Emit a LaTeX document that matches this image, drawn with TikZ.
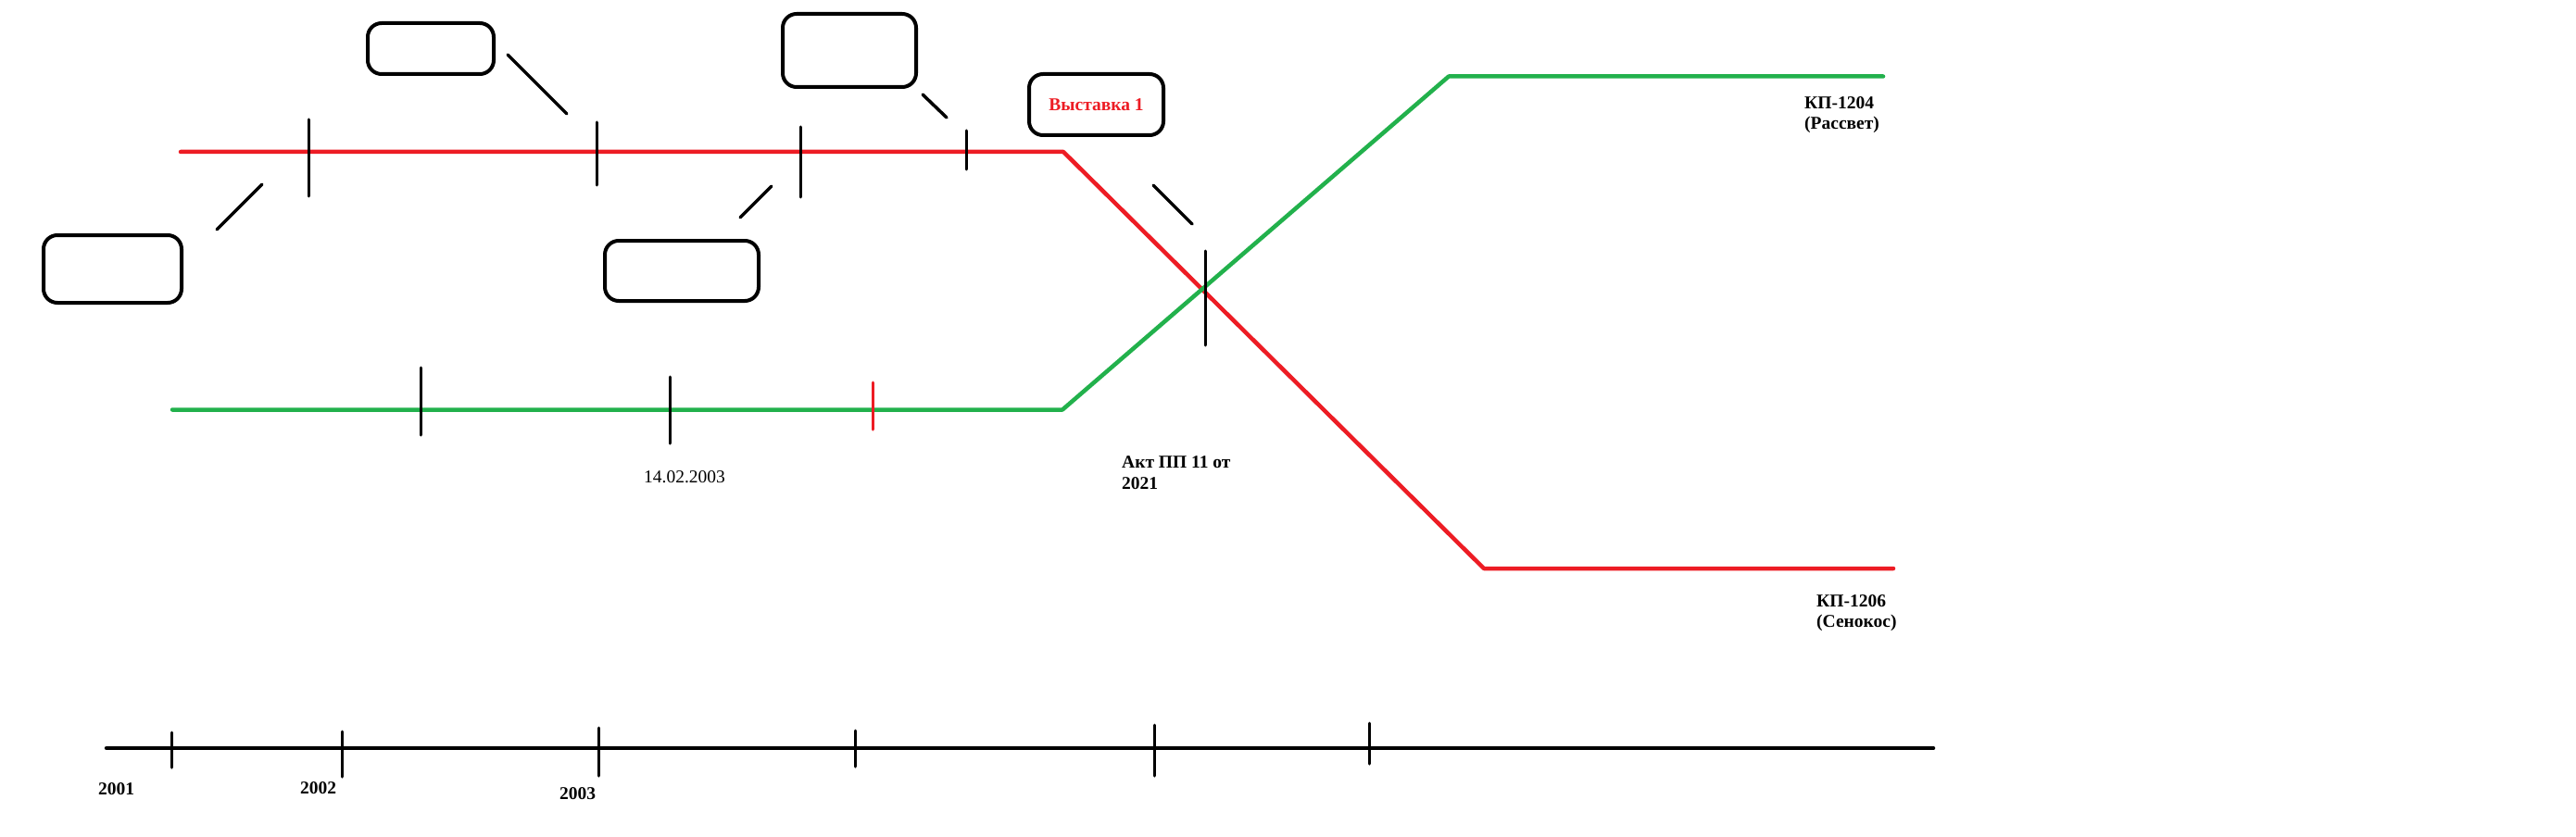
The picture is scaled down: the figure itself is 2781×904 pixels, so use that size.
\documentclass[tikz,border=0pt]{standalone}
\usepackage{fontspec}
\setmainfont{Liberation Serif}
\definecolor{pred}{HTML}{ED1C24}
\definecolor{pgreen}{HTML}{22B14C}
\newcommand\lblfont{\fontsize{19.5}{22}\selectfont\bfseries}
\newcommand\lblreg{\fontsize{19.5}{22}\selectfont}
\tikzset{
  box/.style={draw=black, line width=4pt, rounded corners=15pt, inner sep=0pt, outer sep=0pt},
  redline/.style={draw=pred, line width=4.5pt, line cap=round, line join=round},
  greenline/.style={draw=pgreen, line width=4.5pt, line cap=round, line join=round},
  tickmark/.style={draw=black, line width=3pt, line cap=round},
  redtick/.style={draw=pred, line width=3pt, line cap=round},
  leader/.style={draw=black, line width=3.5pt, line cap=round},
  axisline/.style={draw=black, line width=4.5pt, line cap=round},
  lbl/.style={font=\lblfont, inner sep=0pt, anchor=base west},
  lblr/.style={font=\lblreg, inner sep=0pt, anchor=base west}
}
\begin{document}
\begin{tikzpicture}[x=1pt, y=-1pt]
\useasboundingbox (0,0) rectangle (2781,904);
\fill[white] (0,0) rectangle (2781,904);

% boxes
\node[box, minimum width=149pt, minimum height=73pt] (A) at (121.5,290.5) {};
\node[box, minimum width=136pt, minimum height=55pt] (B) at (465,52.5) {};
\node[box, minimum width=144pt, minimum height=79pt] (C) at (917,54.5) {};
\node[box, minimum width=166pt, minimum height=65pt] (D) at (736,292.5) {};
\node[box, minimum width=145pt, minimum height=66pt, font=\lblfont, text=pred] (E) at (1183.5,113) {Выставка 1};

% red track
\coordinate (r0) at (195,164);
\coordinate (r1) at (1148,164);
\coordinate (r2) at (1602,614);
\coordinate (r3) at (2044,614);
\draw[redline] (r0) -- (r1) -- (r2) -- (r3);

% green track
\coordinate (g0) at (186,442.5);
\coordinate (g1) at (1147,442.5);
\coordinate (g2) at (1564,82.5);
\coordinate (g3) at (2033,82.5);
\draw[greenline] (g0) -- (g1) -- (g2) -- (g3);

% ticks on red track
\coordinate (t1a) at (333,129); \coordinate (t1b) at (333,212);
\coordinate (t2a) at (644,132); \coordinate (t2b) at (644,200);
\coordinate (t3a) at (864,137); \coordinate (t3b) at (864,213);
\coordinate (t4a) at (1043,141); \coordinate (t4b) at (1043,183);
\draw[tickmark] (t1a) -- (t1b);
\draw[tickmark] (t2a) -- (t2b);
\draw[tickmark] (t3a) -- (t3b);
\draw[tickmark] (t4a) -- (t4b);

% crossing tick
\coordinate (xa) at (1301,271); \coordinate (xb) at (1301,373);
\draw[tickmark] (xa) -- (xb);

% ticks on green track
\coordinate (s1a) at (454,397); \coordinate (s1b) at (454,470);
\coordinate (s2a) at (723,407); \coordinate (s2b) at (723,479);
\coordinate (s3a) at (942,413); \coordinate (s3b) at (942,464);
\draw[tickmark] (s1a) -- (s1b);
\draw[tickmark] (s2a) -- (s2b);
\draw[redtick] (s3a) -- (s3b);

% leader strokes
\coordinate (la1) at (234,248); \coordinate (la2) at (283,199);
\coordinate (lb1) at (548,59);  \coordinate (lb2) at (612,123);
\coordinate (lc1) at (996,102); \coordinate (lc2) at (1022,127);
\coordinate (ld1) at (799,235); \coordinate (ld2) at (833,201);
\coordinate (le1) at (1245,200); \coordinate (le2) at (1287,242);
\draw[leader] (la1) -- (la2);
\draw[leader] (lb1) -- (lb2);
\draw[leader] (lc1) -- (lc2);
\draw[leader] (ld1) -- (ld2);
\draw[leader] (le1) -- (le2);

% labels
\node[lbl] (akt1) at (1211,505) {Акт ПП 11 от};
\node[lbl] (akt2) at (1211,528) {2021};
\node[lbl] (kp1a) at (1948,118) {КП-1204};
\node[lbl] (kp1b) at (1948,140) {(Рассвет)};
\node[lbl] (kp2a) at (1961,655) {КП-1206};
\node[lbl] (kp2b) at (1961,677) {(Сенокос)};
\node[lblr] (date) at (695,521) {14.02.2003};

% time axis
\coordinate (ax0) at (115,808);
\coordinate (ax1) at (2087,808);
\draw[axisline] (ax0) -- (ax1);
\coordinate (y1a) at (185,791);  \coordinate (y1b) at (185,829);
\coordinate (y2a) at (369,790);  \coordinate (y2b) at (369,839);
\coordinate (y3a) at (646,786);  \coordinate (y3b) at (646,838);
\coordinate (y4a) at (923,789);  \coordinate (y4b) at (923,828);
\coordinate (y5a) at (1246,783); \coordinate (y5b) at (1246,838);
\coordinate (y6a) at (1478,781); \coordinate (y6b) at (1478,825);
\draw[tickmark] (y1a) -- (y1b);
\draw[tickmark] (y2a) -- (y2b);
\draw[tickmark] (y3a) -- (y3b);
\draw[tickmark] (y4a) -- (y4b);
\draw[tickmark] (y5a) -- (y5b);
\draw[tickmark] (y6a) -- (y6b);
\node[lbl] (yr1) at (106,858) {2001};
\node[lbl] (yr2) at (324,857) {2002};
\node[lbl] (yr3) at (604,863) {2003};
\end{tikzpicture}
\end{document}
